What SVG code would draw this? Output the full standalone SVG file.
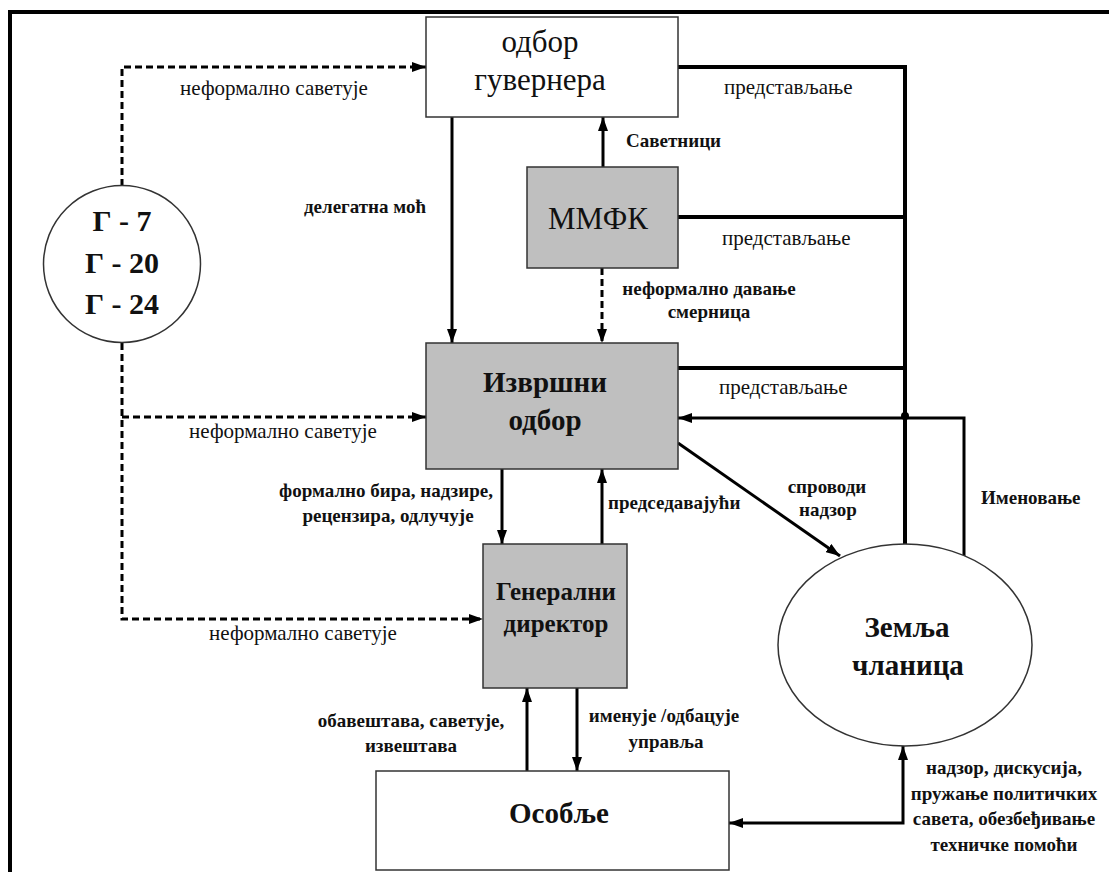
<svg xmlns="http://www.w3.org/2000/svg" width="1109" height="872" viewBox="0 0 1109 872" font-family="'Liberation Serif', 'Times New Roman', 'DejaVu Serif', serif">
<style>
.box{stroke:#333;stroke-width:1.5}
.w{fill:#fff}
.g{fill:#bfbfbf}
.t{font-family:'Liberation Serif','Times New Roman','DejaVu Serif',serif;fill:#111}
.big{font-size:31px}
.bb{font-size:29px;font-weight:bold}
.lb{font-size:19px;font-weight:bold}
.lr{font-size:21px}
.c{text-anchor:middle}
.ln{fill:none;stroke:#000;stroke-width:3}
.th{fill:none;stroke:#000;stroke-width:4}
.ds{fill:none;stroke:#000;stroke-width:3;stroke-dasharray:7 4}
</style>
<defs>
<marker id="ah" viewBox="0 0 14 10" refX="14" refY="5" markerWidth="14" markerHeight="10" markerUnits="userSpaceOnUse" orient="auto-start-reverse"><path d="M0,0 L14,5 L0,10 z" fill="#000"/></marker>
</defs>
<rect width="1109" height="872" fill="#fff"/>
<g id="frame"><path d="M10,872 V12 H1109" fill="none" stroke="#000" stroke-width="4"/></g>

<g id="connectors">
<path class="ds" d="M122,186 V67 H426" marker-end="url(#ah)"/>
<path class="ds" d="M122,343 V619 H483" marker-end="url(#ah)"/>
<path class="ds" d="M122,417 H426" marker-end="url(#ah)"/>
<path class="ln" d="M452,117 V343" marker-end="url(#ah)"/>
<path class="ln" d="M603,167 V117" marker-end="url(#ah)"/>
<path class="ds" d="M602,268 V343" marker-end="url(#ah)"/>
<path class="th" d="M678,67 H905 V544"/>
<path class="th" d="M678,217 H905"/>
<path class="th" d="M678,368 H905"/>
<path class="ln" d="M964,557 V418 H678" marker-end="url(#ah)"/>
<circle cx="905" cy="416" r="4" fill="#000"/>
<path class="ln" d="M678,443 L840,556" marker-end="url(#ah)"/>
<path class="ln" d="M502,469 V544" marker-end="url(#ah)"/>
<path class="ln" d="M602,544 V469" marker-end="url(#ah)"/>
<path class="ln" d="M577,688 V771" marker-end="url(#ah)"/>
<path class="ln" d="M527,771 V688" marker-end="url(#ah)"/>
<path class="ln" d="M729,823 H903 V746" marker-start="url(#ah)" marker-end="url(#ah)"/>
<g class="t">
<text class="t lr c" x="274" y="95">неформално саветује</text>
<text class="t lr c" x="283" y="438">неформално саветује</text>
<text class="t lr c" x="303" y="640">неформално саветује</text>
<text class="t lb c" x="365" y="213">делегатна моћ</text>
<text class="t lb" x="626" y="147">Саветници</text>
<text class="t lb c" x="709" y="295">неформално давање</text>
<text class="t lb c" x="709" y="318">смерница</text>
<text class="t lr" x="724" y="94">представљање</text>
<text class="t lr" x="722" y="245">представљање</text>
<text class="t lr" x="719" y="394">представљање</text>
<text class="t lb" x="981" y="504">Именовање</text>
<text class="t lb c" x="827" y="493">спроводи</text>
<text class="t lb c" x="828" y="516">надзор</text>
<text class="t lb c" x="386" y="497">формално бира, надзире,</text>
<text class="t lb c" x="388" y="522">рецензира, одлучује</text>
<text class="t lb" x="608" y="509">председавајући</text>
<text class="t lb c" x="411" y="727">обавештава, саветује,</text>
<text class="t lb c" x="411" y="752">извештава</text>
<text class="t lb c" x="664" y="722">именује /одбацује</text>
<text class="t lb c" x="666" y="748">управља</text>
<text class="t lb c" x="1004" y="774">надзор, дискусија,</text>
<text class="t lb c" x="1004" y="800">пружање политичких</text>
<text class="t lb c" x="1004" y="825">савета, обезбеђивање</text>
<text class="t lb c" x="1004" y="851">техничке помоћи</text>
</g>
</g>

<g id="board">
<rect class="box w" x="426" y="17" width="252" height="100"/>
<text class="t big c" x="540" y="52">одбор</text>
<text class="t big c" x="540" y="90">гувернера</text>
</g>
<g id="mmfk">
<rect class="box g" x="527" y="167" width="151" height="101"/>
<text class="t big c" x="598" y="229">ММФК</text>
</g>
<g id="executive">
<rect class="box g" x="426" y="343" width="252" height="126"/>
<text class="t bb c" x="545" y="392">Извршни</text>
<text class="t bb c" x="545" y="430">одбор</text>
</g>
<g id="director">
<rect class="box g" x="483" y="544" width="144" height="144"/>
<text class="t c" x="556" y="600" style="font-size:25px;font-weight:bold">Генерални</text>
<text class="t c" x="556" y="632" style="font-size:25px;font-weight:bold">директор</text>
</g>
<g id="staff">
<rect class="box w" x="376" y="771" width="353" height="99"/>
<text class="t bb c" x="559" y="823">Особље</text>
</g>
<g id="groups">
<circle cx="122" cy="264" r="78.5" fill="#fff" stroke="#333" stroke-width="1.5"/>
<text class="t c" x="122" y="231" style="font-size:30px;font-weight:bold">Г - 7</text>
<text class="t c" x="122" y="273" style="font-size:30px;font-weight:bold">Г - 20</text>
<text class="t c" x="122" y="314" style="font-size:30px;font-weight:bold">Г - 24</text>
</g>
<g id="member">
<ellipse cx="905" cy="645" rx="127" ry="101" fill="#fff" stroke="#333" stroke-width="1.5"/>
<text class="t bb c" x="907" y="637">Земља</text>
<text class="t bb c" x="908" y="675">чланица</text>
</g>
</svg>
